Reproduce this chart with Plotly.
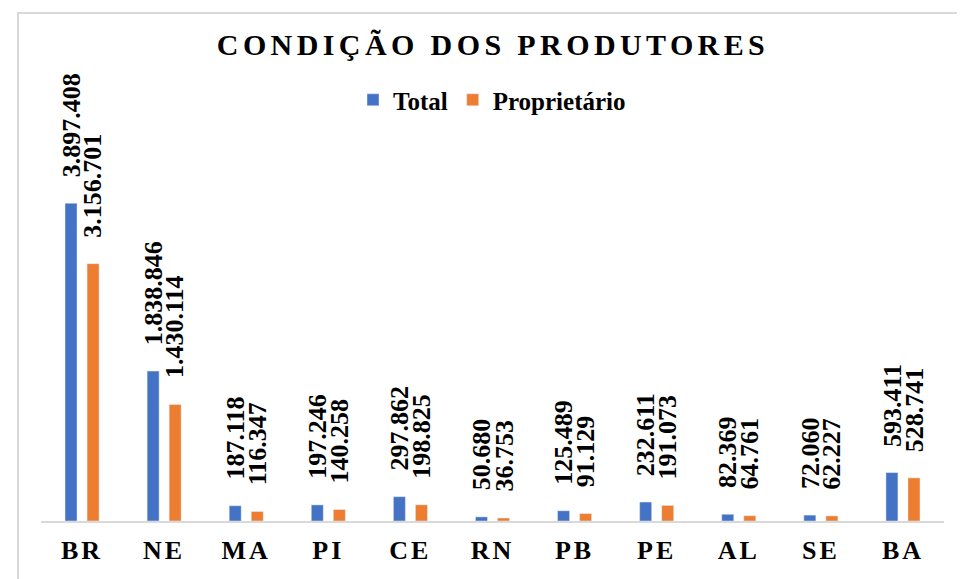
import plotly.graph_objects as go

categories = ["BR", "NE", "MA", "PI", "CE", "RN", "PB", "PE", "AL", "SE", "BA"]
total = [3897408, 1838846, 187118, 197246, 297862, 50680, 125489, 232611, 82369, 72060, 593411]
proprietario = [3156701, 1430114, 116347, 140258, 198825, 36753, 91129, 191073, 64761, 62227, 528741]
series_names = ["Total", "Proprietário"]
title_text = "CONDIÇÃO DOS PRODUTORES"

BLUE = "#4472C4"
ORANGE = "#ED7D31"
FONT = "Liberation Serif"

W, H = 965, 579
ML, MR, MT, MB = 33, 29, 98, 66


def fmt(v):
    return f"{v:,}".replace(",", ".")


fig = go.Figure()
fig.add_trace(go.Bar(x=categories, y=total, name=series_names[0], marker_color=BLUE))
fig.add_trace(go.Bar(x=categories, y=proprietario, name=series_names[1], marker_color=ORANGE))

annotations = []
for vals, shift in ((total, -11), (proprietario, 11)):
    for c, v in zip(categories, vals):
        annotations.append(dict(
            x=c, y=v, xref="x", yref="y", text=fmt(v), showarrow=False,
            textangle=-90, xanchor="center", yanchor="bottom",
            xshift=shift, yshift=24,
            font=dict(family=FONT, size=26, color="#000000", weight="bold"),
        ))

pw = W - ML - MR
ph = H - MT - MB


def px_x(p):
    return (p - ML) / pw


def px_y(p):
    return (H - MB - p) / ph


shapes = [
    dict(type="line", xref="paper", yref="paper", x0=px_x(9), x1=px_x(970), y0=px_y(5), y1=px_y(5),
         line=dict(color="#d9d9d9", width=2)),
    dict(type="line", xref="paper", yref="paper", x0=px_x(10), x1=px_x(10), y0=px_y(5), y1=px_y(585),
         line=dict(color="#d9d9d9", width=2)),
]

fig.update_layout(
    width=W, height=H,
    margin=dict(l=ML, r=MR, t=MT, b=MB),
    paper_bgcolor="white", plot_bgcolor="white",
    barmode="group", bargap=0.463, bargroupgap=0.455,
    title=dict(text=title_text, x=485 / W, xanchor="center", y=1 - 36 / H, yanchor="middle",
               font=dict(family=FONT, size=30, color="#000000", weight="bold")),
    legend=dict(orientation="h", x=px_x(484), xanchor="center", y=px_y(92), yanchor="middle",
                font=dict(family=FONT, size=25, color="#000000", weight="bold"),
                bgcolor="rgba(0,0,0,0)", itemwidth=30),
    xaxis=dict(showline=True, linecolor="#d9d9d9", linewidth=2, showgrid=False, ticks="",
               tickfont=dict(family=FONT, size=26, color="#000000", weight="bold"),
               ticklabelstandoff=5),
    yaxis=dict(range=[0, 5.09e6], showticklabels=False, showgrid=False, zeroline=False, showline=False),
    annotations=annotations,
    shapes=shapes,
    showlegend=True,
)

post = """
document.querySelectorAll('.gtitle').forEach(function(e){e.style.letterSpacing='4.4px';});
document.querySelectorAll('.xtick text').forEach(function(e){e.style.letterSpacing='3px';});
"""

fig.write_html("out.html", post_script=post)
